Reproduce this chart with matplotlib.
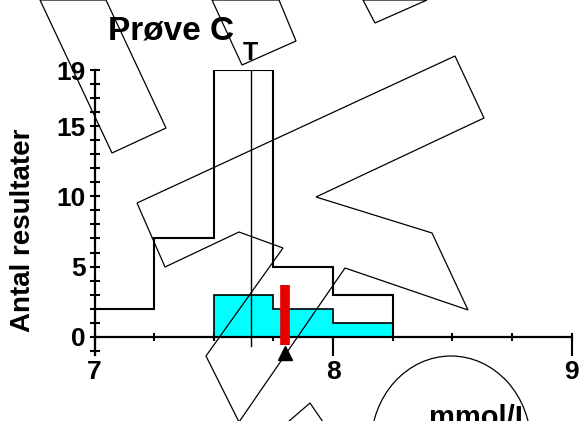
import numpy as np
import matplotlib
matplotlib.use("Agg")
import matplotlib.pyplot as plt
from matplotlib.patches import Polygon, Ellipse
from matplotlib.ticker import MultipleLocator, FixedLocator

# histogram data (mmol/L)
edges = [7.0, 7.25, 7.5, 7.75, 8.0, 8.25]
all_counts = [2, 7, 19, 5, 3]
sub_edges = [7.5, 7.75, 8.0, 8.25]
sub_counts = [3, 2, 1]
target_value = 7.655
own_result = 7.80

ytick_vals = [0, 5, 10, 15, 19]
xtick_vals = [7, 8, 9]

plt.rcParams['font.family'] = ['Liberation Sans', 'DejaVu Sans']
plt.rcParams['font.weight'] = 'bold'

W, H = 581, 421
fig = plt.figure(figsize=(W / 100, H / 100), dpi=100)
ax = fig.add_axes([94.5 / W, 1 - 355 / H, 477.2 / W, 285 / H])

# all participants
ax.stairs(all_counts, edges, fill=False, color='black', lw=1.5, baseline=0, zorder=3)
# own method group
ax.stairs(sub_counts, sub_edges, fill=True, facecolor='cyan', edgecolor='black', lw=1.2, zorder=2)

ax.plot([target_value, target_value], [-0.65, 19], color='black', lw=1.0, zorder=4)
ax.plot([own_result, own_result], [-0.6, 3.7], color='#e60000', lw=7, solid_capstyle='butt', zorder=6)
ax.plot([own_result], [-1.14], marker='^', color='black', ms=10, clip_on=False, zorder=7)

ax.set_xlim(7, 9)
ax.set_ylim(-1.3, 19)

ax.spines['top'].set_visible(False)
ax.spines['right'].set_visible(False)
ax.spines['bottom'].set_position(('data', 0))
ax.spines['left'].set_linewidth(1.6)
ax.spines['bottom'].set_linewidth(1.6)

ax.xaxis.set_major_locator(FixedLocator(xtick_vals))
ax.xaxis.set_minor_locator(MultipleLocator(0.25))
ax.xaxis.remove_overlapping_locs = False
ax.yaxis.set_major_locator(FixedLocator(ytick_vals))
ax.yaxis.set_minor_locator(MultipleLocator(1))

ax.tick_params(axis='x', which='major', direction='out', length=14, width=1.5, pad=3, labelsize=19)
ax.tick_params(axis='x', which='minor', direction='inout', length=6, width=1.5)
ax.tick_params(axis='y', which='both', direction='inout', length=7, width=1.5)
ax.tick_params(axis='y', which='major', pad=3, labelsize=19)

for lab in ax.get_xticklabels() + ax.get_yticklabels():
    lab.set_fontweight('bold')

fig.text(23 / W, 1 - 230 / H, 'Antal resultater', rotation=90, ha='center', va='center',
         fontsize=20, fontweight='bold')
fig.text(481 / W, 1 - 426 / H, 'mmol/L', ha='center', va='baseline', fontsize=21, fontweight='bold')
fig.text(108 / W, 1 - 39 / H, 'Prøve C', ha='left', va='baseline', fontsize=24, fontweight='bold')
fig.text(243 / W, 1 - 60 / H, 'T', ha='left', va='baseline', fontsize=18, fontweight='bold')

# faint logo outlines in the background (pixel coords from top-left)
watermark = [
    [(40, 0), (112, 153), (166, 128), (106, 0)],
    [(212, 0), (242, 65), (296, 41), (279, 0)],
    [(363, 0), (375, 23), (427, 0)],
    [(137, 203), (455, 56), (484, 118), (316, 197), (432, 233), (468, 310), (345, 268),
     (239, 422), (206, 356), (283, 248), (239, 232), (165, 267)],
    [(288, 422), (310, 403), (323, 422)],
]
for pts in watermark:
    p = np.array(pts, dtype=float)
    p[:, 0] = p[:, 0] / W
    p[:, 1] = 1 - p[:, 1] / H
    fig.add_artist(Polygon(p, closed=True, fill=False, edgecolor='black', lw=0.9,
                           transform=fig.transFigure, zorder=5))
fig.add_artist(Ellipse((451 / W, 1 - 445 / H), 160 / W, 178 / H, fill=False, edgecolor='black',
                       lw=0.9, transform=fig.transFigure, zorder=5))

fig.savefig('out.png', dpi=100)
